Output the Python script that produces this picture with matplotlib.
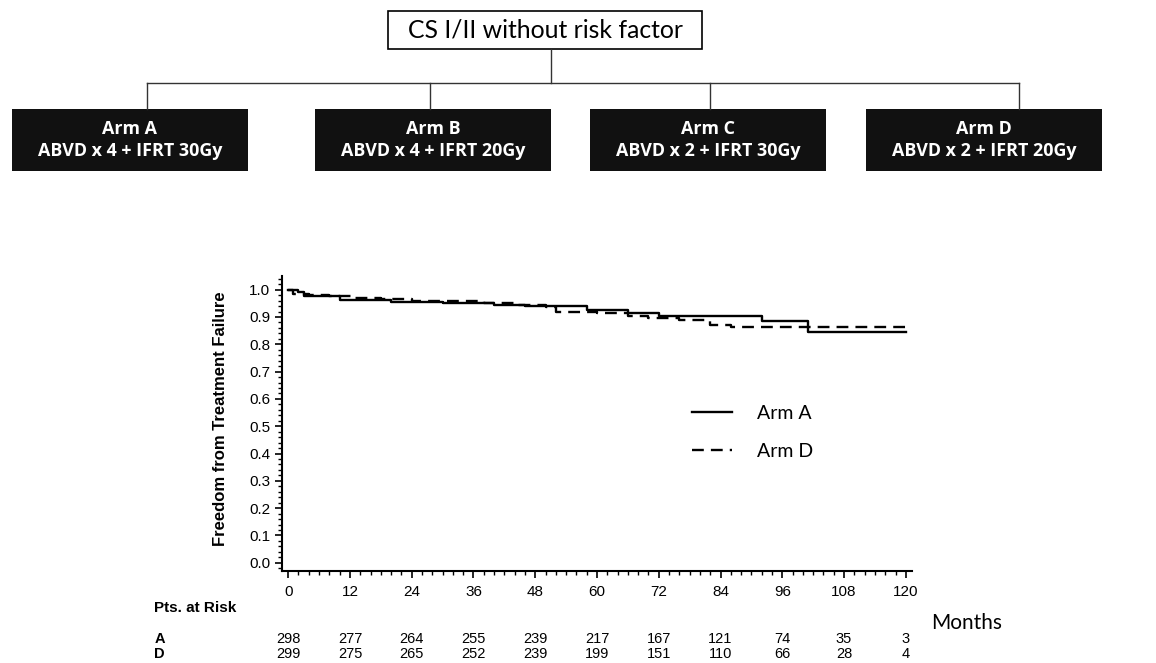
import matplotlib
matplotlib.use('Agg')
import matplotlib.pyplot as plt
from matplotlib.patches import Rectangle
from matplotlib.ticker import MultipleLocator

# flow chart text
top_label = 'CS I/II without risk factor'
arm_names = ['Arm A', 'Arm B', 'Arm C', 'Arm D']
arm_regimens = ['ABVD x 4 + IFRT 30Gy', 'ABVD x 4 + IFRT 20Gy',
                'ABVD x 2 + IFRT 30Gy', 'ABVD x 2 + IFRT 20Gy']

# Kaplan-Meier curves (months, freedom from treatment failure)
arm_a_t = [0, 2, 3, 10, 20, 30, 40, 46, 58, 66, 72, 92, 101, 120]
arm_a_s = [1.0, 0.99, 0.975, 0.963, 0.955, 0.95, 0.945, 0.94, 0.925, 0.915, 0.905, 0.885, 0.845, 0.845]
arm_d_t = [0, 1, 4, 8, 13, 18, 24, 30, 38, 44, 50, 52, 60, 66, 70, 76, 82, 86, 120]
arm_d_s = [1.0, 0.985, 0.98, 0.975, 0.97, 0.965, 0.96, 0.958, 0.952, 0.945, 0.935, 0.92, 0.915,
           0.905, 0.895, 0.89, 0.872, 0.865, 0.865]

# patients at risk
risk_months = [0, 12, 24, 36, 48, 60, 72, 84, 96, 108, 120]
risk_a = [298, 277, 264, 255, 239, 217, 167, 121, 74, 35, 3]
risk_d = [299, 275, 265, 252, 239, 199, 151, 110, 66, 28, 4]

W, H = 1156, 663
fig = plt.figure(figsize=(W / 100, H / 100), dpi=100)
renderer = fig.canvas.get_renderer()


def fit_width(txt, target_px):
    # scale the font so the text is target_px wide
    fig.canvas.draw()
    w = txt.get_window_extent(renderer).width
    txt.set_fontsize(txt.get_fontsize() * target_px / w)
    return txt.get_fontsize()


# overlay in pixel coords for the flow chart
over = fig.add_axes([0, 0, 1, 1])
over.set_xlim(0, W)
over.set_ylim(H, 0)
over.axis('off')

over.add_patch(Rectangle((388, 11), 314, 38, fill=False, edgecolor='black', lw=1.2))
t = over.text(546, 30, top_label, ha='center', va='center', fontsize=16,
              family='Lato', color='black')
fit_width(t, 276)
over.plot([551, 551], [49, 83], color='#333333', lw=1)
line_x = [147, 430, 710, 1019]
over.plot([line_x[0], line_x[-1]], [83, 83], color='#333333', lw=1)
box_x = [12, 315, 590, 866]
box_w = 236
for i in range(4):
    over.plot([line_x[i], line_x[i]], [83, 109], color='#333333', lw=1)
    over.add_patch(Rectangle((box_x[i], 109), box_w, 62, facecolor='#111111', edgecolor='none'))
    cx = box_x[i] + box_w / 2
    t = over.text(cx, 151, arm_regimens[i], ha='center', va='center', color='white',
                  fontsize=11, fontweight='bold', family='Open Sans')
    fs = fit_width(t, 184)
    over.text(cx, 129, arm_names[i], ha='center', va='center', color='white',
              fontsize=fs, fontweight='bold', family='Open Sans')

# KM plot
ax = fig.add_axes([282 / W, (H - 571) / H, 630 / W, 295 / H])
ax.step(arm_a_t, arm_a_s, where='post', color='black', lw=1.7, label='Arm A')
ax.step(arm_d_t, arm_d_s, where='post', color='black', lw=1.7, dashes=(5, 3), label='Arm D')
ax.set_xlim(-1.2, 121.2)
ax.set_ylim(-0.03, 1.05)
ax.spines['top'].set_visible(False)
ax.spines['right'].set_visible(False)
ax.spines['left'].set_linewidth(1.5)
ax.spines['bottom'].set_linewidth(1.5)
ax.set_xticks(risk_months)
ax.set_yticks([i / 10 for i in range(11)])
ax.set_yticklabels(['%.1f' % (i / 10) for i in range(11)])
ax.xaxis.set_minor_locator(MultipleLocator(2))
ax.yaxis.set_minor_locator(MultipleLocator(0.02))
ax.tick_params(which='major', length=5, width=1.2, labelsize=11, direction='out')
ax.tick_params(which='minor', length=3, width=1)
ax.tick_params(axis='x', pad=5)
for lab in ax.get_xticklabels() + ax.get_yticklabels():
    lab.set_family('Liberation Sans')
ax.set_ylabel('Freedom from Treatment Failure', fontsize=12, fontweight='bold',
              family='Liberation Sans', labelpad=6)
ax.yaxis.set_label_coords(-0.085, 0.515)

leg = ax.legend(loc='center left', bbox_to_anchor=(0.651, 0.47), frameon=False,
                prop={'family': 'Lato', 'size': 14}, handlelength=2.05,
                labelspacing=1.05, handletextpad=1.3, borderpad=0, borderaxespad=0)

# numbers at risk
tr = ax.get_xaxis_transform()
ax.text(-26, -0.125, 'Pts. at Risk', transform=tr, ha='left', va='center',
        fontsize=11, fontweight='bold', family='Liberation Sans')
ax.text(-26, -0.23, 'A', transform=tr, ha='left', va='center',
        fontsize=10.5, fontweight='bold', family='Liberation Sans')
ax.text(-26, -0.28, 'D', transform=tr, ha='left', va='center',
        fontsize=10.5, fontweight='bold', family='Liberation Sans')
for m, a, d in zip(risk_months, risk_a, risk_d):
    ax.text(m, -0.23, str(a), transform=tr, ha='center', va='center',
            fontsize=10.5, family='Liberation Sans')
    ax.text(m, -0.28, str(d), transform=tr, ha='center', va='center',
            fontsize=10.5, family='Liberation Sans')
ax.text(125, -0.175, 'Months', transform=tr, ha='left', va='center',
        fontsize=15, family='Lato', clip_on=False)

fig.savefig('out.png', dpi=100)
